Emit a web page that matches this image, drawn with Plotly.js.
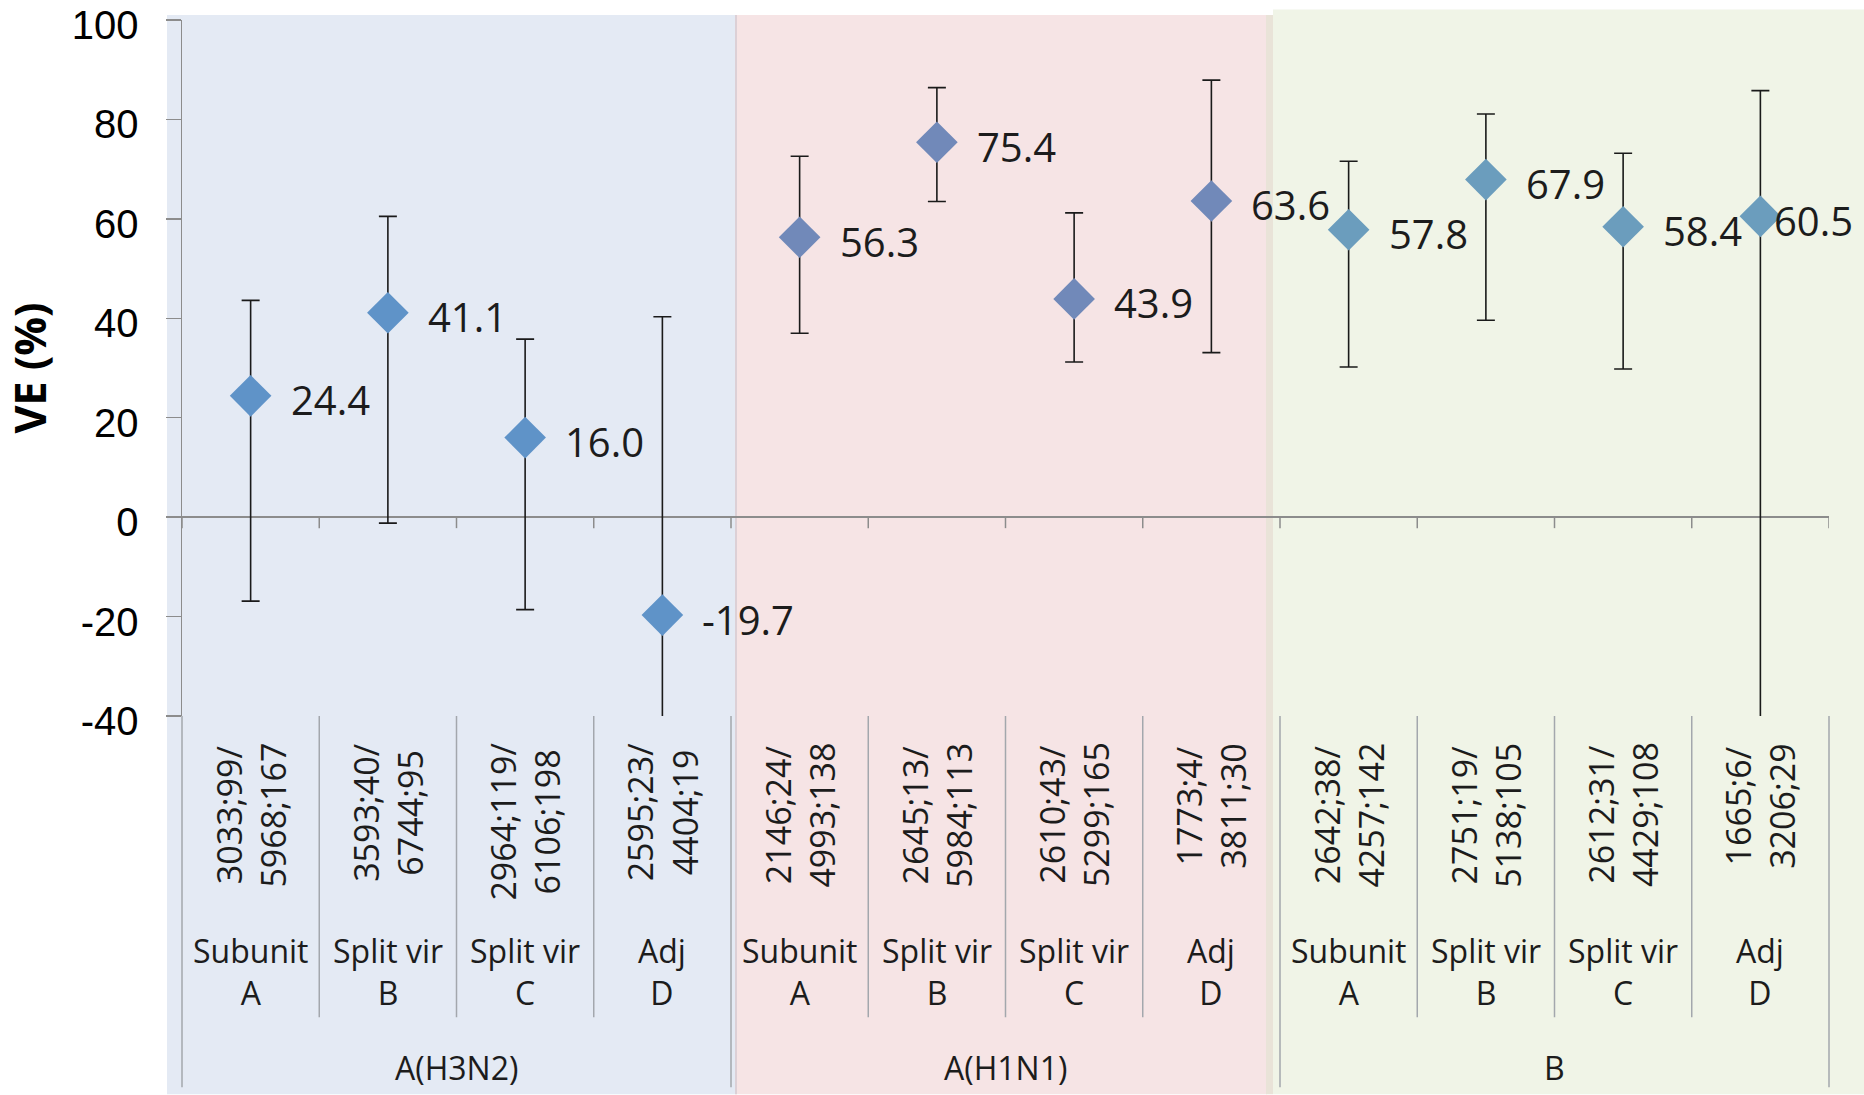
<!DOCTYPE html>
<html>
<head>
<meta charset="utf-8">
<script src="https://cdn.plot.ly/plotly-3.0.1.min.js"></script>
<style>
  html, body { margin: 0; padding: 0; background: #ffffff; }
  #chart { width: 1864px; height: 1095px; }
</style>
</head>
<body>
<div id="chart"></div>
<script>
// ---- data ----
const groups = ["A(H3N2)", "A(H1N1)", "B"];
const vaccineTypes = ["Subunit", "Split vir", "Split vir", "Adj"];
const brands = ["A", "B", "C", "D"];

// VE (%) point estimates, 12 categories (4 per group)
const ve = [24.4, 41.1, 16.0, -19.7, 56.3, 75.4, 43.9, 63.6, 57.8, 67.9, 58.4, 60.5];
// 95% CI bounds (lower bounds of D in H3N2 and B run below the axis; estimated)
const ciUpper = [43.6, 60.5, 35.8, 40.3, 72.6, 86.4, 61.2, 87.9, 71.6, 81.1, 73.2, 85.8];
const ciLower = [-16.9, -1.2, -18.6, -140.0, 37.0, 63.5, 31.2, 33.1, 30.2, 39.6, 29.8, -60.0];

// counts shown under each category (two lines)
const countsLine1 = ["3033;99/", "3593;40/", "2964;119/", "2595;23/",
                     "2146;24/", "2645;13/", "2610;43/", "1773;4/",
                     "2642;38/", "2751;19/", "2612;31/", "1665;6/"];
const countsLine2 = ["5968;167", "6744;95", "6106;198", "4404;19",
                     "4993;138", "5984;113", "5299;165", "3811;30",
                     "4257;142", "5138;105", "4429;108", "3206;29"];

const yTicks = [-40, -20, 0, 20, 40, 60, 80, 100];

// ---- styling ----
const FONT = "'Open Sans', 'Noto Sans', sans-serif";
const TICKFONT = "'Liberation Sans', Arial, sans-serif";
const groupColors = ["#5F93C8", "#7189B9", "#6B9DBD"];
const perGroup = vaccineTypes.length;
const nCat = groups.length * perGroup;

const W = 1864, H = 1095;
const L = 182, R = 35, T = 20, B = 378.5;
const plotW = W - L - R, plotH = H - T - B;
const px2x = p => (p - L) / plotW;           // pixel -> paper x
const py2y = p => (H - B - p) / plotH;       // pixel -> paper y

const traces = groups.map((g, gi) => {
  const idx = [];
  for (let k = 0; k < perGroup; k++) idx.push(gi * perGroup + k);
  return {
    type: "scatter",
    mode: "markers",
    name: g,
    x: idx.map(i => i + 0.5),
    y: idx.map(i => ve[i]),
    marker: { symbol: "diamond", size: 32, color: groupColors[gi], line: { width: 0 } },
    error_y: {
      type: "data",
      symmetric: false,
      array: idx.map(i => ciUpper[i] - ve[i]),
      arrayminus: idx.map(i => ve[i] - ciLower[i]),
      color: "#1a1a1a",
      thickness: 1.6,
      width: 9
    },
    hoverinfo: "x+y",
    showlegend: false
  };
});

const shapes = [];
// background panels
shapes.push({ type: "rect", xref: "paper", yref: "paper", layer: "below",
  x0: px2x(167), x1: px2x(735), y0: py2y(1095), y1: py2y(15),
  fillcolor: "#E4EAF4", line: { width: 0 } });
shapes.push({ type: "rect", xref: "paper", yref: "paper", layer: "below",
  x0: px2x(735), x1: px2x(1267), y0: py2y(1095), y1: py2y(15),
  fillcolor: "#F6E4E5", line: { width: 0 } });
shapes.push({ type: "rect", xref: "paper", yref: "paper", layer: "below",
  x0: px2x(1273), x1: px2x(1864), y0: py2y(1095), y1: py2y(9.5),
  fillcolor: "#F0F4E7", line: { width: 0 } });
shapes.push({ type: "rect", xref: "paper", yref: "paper", layer: "below",
  x0: px2x(1266), x1: px2x(1273), y0: py2y(1095), y1: py2y(15),
  fillcolor: "#E9E3D8", line: { width: 0 } });
shapes.push({ type: "line", xref: "paper", yref: "paper", layer: "below",
  x0: px2x(736), x1: px2x(736), y0: py2y(1095), y1: py2y(15),
  line: { color: "#DCD0D6", width: 2 } });

// tick marks on the zero line at category boundaries
for (let i = 0; i <= nCat; i++) {
  shapes.push({ type: "line", xref: "x", yref: "y", ysizemode: "pixel", yanchor: 0,
    x0: i, x1: i, y0: 0, y1: -11, line: { color: "#8C8C8C", width: 1.5 } });
}
// divider lines of the category table below the plot
for (let i = 0; i <= nCat; i++) {
  const isGroupEdge = i % perGroup === 0;
  shapes.push({ type: "line", xref: "paper", yref: "paper", layer: "above",
    x0: i / nCat, x1: i / nCat, y0: 0, y1: py2y(isGroupEdge ? 1088 : 1018),
    line: { color: "#A3A7AD", width: 1.5 } });
}

const annotations = [];
// value labels
for (let i = 0; i < nCat; i++) {
  annotations.push({
    x: i + 0.5, y: ve[i], xref: "x", yref: "y",
    text: ve[i].toFixed(1), showarrow: false,
    xanchor: "left", yanchor: "middle",
    xshift: i === nCat - 1 ? 12 : 38, yshift: -4,
    font: { family: FONT, size: 40, color: "#1c1c1c" }
  });
}
// counts (rotated), vaccine type + brand
for (let i = 0; i < nCat; i++) {
  annotations.push({
    x: i + 0.5, y: py2y(741), xref: "x", yref: "paper",
    text: countsLine1[i] + "<br>" + countsLine2[i], showarrow: false,
    textangle: -90, xanchor: "center", yanchor: "top", align: "center",
    font: { family: FONT, size: 34, color: "#1c1c1c" }
  });
  annotations.push({
    x: i + 0.5, y: py2y(972), xref: "x", yref: "paper",
    text: vaccineTypes[i % perGroup] + "<br>" + brands[i % perGroup], showarrow: false,
    xanchor: "center", yanchor: "middle", align: "center",
    font: { family: FONT, size: 32, color: "#1c1c1c" }
  });
}
// group labels
groups.forEach((g, gi) => {
  annotations.push({
    x: gi * perGroup + perGroup / 2, y: py2y(1068), xref: "x", yref: "paper",
    text: g, showarrow: false, xanchor: "center", yanchor: "middle",
    font: { family: FONT, size: 32, color: "#1c1c1c" }
  });
});

const layout = {
  width: W, height: H,
  margin: { l: L, r: R, t: T, b: B, pad: 0 },
  paper_bgcolor: "#ffffff",
  plot_bgcolor: "rgba(0,0,0,0)",
  font: { family: FONT, color: "#000000" },
  showlegend: false,
  xaxis: {
    range: [0, nCat], fixedrange: true,
    showgrid: false, zeroline: false, showline: false,
    showticklabels: false, ticks: ""
  },
  yaxis: {
    range: [-40, 100], fixedrange: true,
    tickvals: yTicks, ticktext: yTicks.map(v => String(v)),
    tickfont: { family: TICKFONT, size: 40, color: "#000000" },
    ticks: "outside", ticklen: 15, tickwidth: 1.5, tickcolor: "#8C8C8C",
    ticklabelstandoff: 19,
    ticklabelshift: 5,
    ticklabeloverflow: "allow",
    showline: true, linecolor: "#8C8C8C", linewidth: 1.5,
    showgrid: false,
    zeroline: true, zerolinecolor: "#8C8C8C", zerolinewidth: 2,
    title: { text: "VE (%)", standoff: 22,
      font: { family: FONT, size: 43, color: "#000000", weight: "bold" } }
  },
  shapes: shapes,
  annotations: annotations
};

Plotly.newPlot("chart", traces, layout, { displayModeBar: false, staticPlot: true });
</script>
</body>
</html>
